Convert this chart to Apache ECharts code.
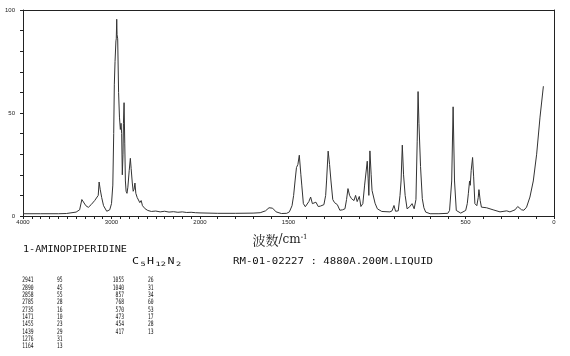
<!DOCTYPE html>
<html><head><meta charset="utf-8">
<script src="https://cdn.jsdelivr.net/npm/echarts@6/dist/echarts.min.js"></script>
<style>html,body{margin:0;padding:0;background:#fff}#c{width:570px;height:356px}</style>
</head><body><div id="c"></div>
<script>
// Spectrum (wavenumber cm-1, Raman intensity)
const wavenumbers = [4000,3800,3600,3510,3500,3400,3360,3335,3320,3290,3262,3230,3190,3170,3150,3140,3128,3111,3090,3054,3020,3000,2985,2975,2968,2960,2950,2946,2941,2937,2930,2920,2910,2900,2892,2885,2878,2870,2865,2858,2850,2843,2835,2825,2815,2800,2787,2778,2765,2755,2745,2735,2725,2710,2700,2680,2665,2650,2620,2590,2550,2500,2450,2400,2350,2300,2250,2200,2150,2100,2050,2000,
1900,1800,1700,1660,1630,1610,1600,1590,1570,1540,1510,1495,1480,1471,1463,1455,1447,1439,1430,1425,1416,1405,1397,1385,1375,1365,1360,1345,1332,1320,1313,1300,1290,1285,1276,1268,1260,1250,1240,1224,1210,1195,1181,1172,1164,1155,1144,1130,1121,1112,1100,1091,1080,1070,1055,1050,1046,1040,1033,1028,1011,998,973,927,915,904,895,880,870,864,857,850,841,830,815,802,790,780,773,768,763,754,744,735,725,700,650,600,590,578,570,562,552,527,499,490,484,477,473,468,460,454,447,436,428,424,417,410,400,381,344,305,267,249,220,205,196,183,170,155,136,117,98,79,60,45];
const intensity = [1.1,1.1,1.1,1.2,1.7,1.9,3,8,7.5,5,4.2,5.5,7.5,6.7,10,16.5,13,9,5,2.3,3,6,15,40,64,75,85,86,95.5,88,86,60,48,42,45,40,20,30,45,55,35,17,12,11,14,22,28,23,16,12,13,16,11,9,8.5,6.5,7.5,5,3.5,2.7,2.2,2.4,2,2.3,1.9,2.1,1.8,2,1.7,1.8,1.6,1.5,
1.3,1.3,1.4,1.6,2.5,4,4.3,3.8,2,1.2,1.3,2,5,10,17,23.5,25,29.5,20,15,6,4.5,4.6,7,9.2,6,5.6,6.7,4.6,4.8,4.6,5.5,10,17,31.5,25,17,8,6.5,5.5,2.8,3,3.5,8,13.3,10,8.4,7.5,10,7,9.5,4.6,6,15,26.6,18,10,31.6,20,12.4,6.2,3.5,2.2,2,2.5,5.1,2.3,2.5,10,17,34.4,20,10,3.5,4.5,6,3.5,8,36,60.4,45,24,8.4,4,1.9,1.1,1.1,1.3,2.7,17,53,17,2.7,1.4,2.7,6,10.8,17,14.9,22,28.4,19,6,5,9,12.8,7.5,4.3,4,4,3,2,2.5,2,3,4.6,5.5,3,2.8,4.3,9.2,17,30,48,63];
const xTickLabels = [4000,3000,2000,1500,500,0];
const yTickLabels = [0,50,100];
const peakWavenumbers = [2941,2890,2858,2785,2735,1471,1455,1439,1276,1164,1055,1040,857,768,570,473,454,417];
const peakIntensities = [95,45,55,28,16,10,23,29,31,13,26,31,34,60,53,17,28,13];
const compoundName = '1-AMINOPIPERIDINE';
const sampleInfo = 'RM-01-02227 : 4880A.200M.LIQUID';

const high = [], low = [];
wavenumbers.forEach((w, i) => {
  if (w >= 2000) high.push([w, intensity[i]]);
  if (w <= 2000) low.push([w, intensity[i]]);
});

const lineCol = '#222';
const tickFont = {fontFamily: 'Liberation Sans', fontSize: 6, color: '#222'};
function xAxisMain(grid, min, max, skip) {
  return {
    gridIndex: grid, type: 'value', min: min, max: max, inverse: true, interval: 100, position: 'bottom',
    axisLine: {show: true, onZero: false, lineStyle: {color: lineCol, width: 1}},
    axisTick: {show: true, length: 3, lineStyle: {color: lineCol}},
    splitLine: {show: false},
    axisLabel: Object.assign({margin: 3, showMinLabel: true, showMaxLabel: true,
      formatter: v => (xTickLabels.includes(v) && v !== skip) ? String(v) : ''}, tickFont)
  };
}
function xAxisTop(grid, min, max) {
  return {gridIndex: grid, type: 'value', min: min, max: max, inverse: true, position: 'top',
    axisLine: {show: true, onZero: false, lineStyle: {color: lineCol, width: 1}},
    axisTick: {show: false}, axisLabel: {show: false}, splitLine: {show: false}};
}

const graphics = [];
graphics.push({type: 'text', x: 280, y: 240, style: {
  text: '{a|波数}{b|/cm}{c|-1}', align: 'center', verticalAlign: 'middle',
  rich: {a: {fontFamily: 'Noto Serif CJK SC, Noto Sans CJK SC', fontSize: 13, fill: '#222'},
         b: {fontFamily: 'DejaVu Serif', fontSize: 12, fill: '#222'},
         c: {fontFamily: 'DejaVu Serif', fontSize: 7, fill: '#222', verticalAlign: 'top', padding: [0,0,6,0]}}
}});
const mono = 'DejaVu Sans Mono';
graphics.push({type: 'text', x: 23, y: 250, scaleX: 1.27, style: {text: compoundName, font: '8px ' + mono, fill: '#111', verticalAlign: 'middle'}});
graphics.push({type: 'text', x: 233, y: 262, scaleX: 1.34, style: {text: sampleInfo, font: '8px ' + mono, fill: '#111', verticalAlign: 'middle'}});
graphics.push({type: 'text', x: 132, y: 262, scaleX: 1.45, style: {
  text: '{n|C}{s|5}{n|H}{s|12}{n|N}{s|2}', verticalAlign: 'middle',
  rich: {n: {fontFamily: mono, fontSize: 8, fill: '#111', padding: [0,1,0,0]},
         s: {fontFamily: mono, fontSize: 6, fill: '#111', padding: [4,1,0,0]}}
}});
peakWavenumbers.forEach((w, i) => {
  const col = i < 10 ? 0 : 1;
  const row = i < 10 ? i : i - 10;
  const y = 280.3 + row * 7.33;
  graphics.push({type: 'text', x: col ? 124 : 33.5, y: y, scaleX: 0.62,
    style: {text: String(w), font: '7.5px ' + mono, fill: '#111', align: 'right', verticalAlign: 'middle'}});
  graphics.push({type: 'text', x: col ? 148 : 57, y: y, scaleX: 0.62,
    style: {text: String(peakIntensities[i]), font: '7.5px ' + mono, fill: '#111', align: 'left', verticalAlign: 'middle'}});
});

const chart = echarts.init(document.getElementById('c'), null, {renderer: 'canvas'});
chart.setOption({
  animation: false,
  backgroundColor: '#fff',
  grid: [
    {left: 23, top: 10, width: 177, height: 206},
    {left: 200, top: 10, width: 354, height: 206}
  ],
  xAxis: [xAxisMain(0, 2000, 4000, null), xAxisTop(0, 2000, 4000), xAxisMain(1, 0, 2000, 2000), xAxisTop(1, 0, 2000)],
  yAxis: [
    {gridIndex: 0, type: 'value', min: 0, max: 100, interval: 10, position: 'left',
     axisLine: {show: true, lineStyle: {color: lineCol, width: 1}},
     axisTick: {show: true, length: 3, lineStyle: {color: lineCol}},
     splitLine: {show: false},
     axisLabel: Object.assign({margin: 8, formatter: v => yTickLabels.includes(v) ? String(v) : ''}, tickFont)},
    {gridIndex: 1, type: 'value', min: 0, max: 100, position: 'right',
     axisLine: {show: true, lineStyle: {color: lineCol, width: 1}},
     axisTick: {show: false}, axisLabel: {show: false}, splitLine: {show: false}}
  ],
  series: [
    {type: 'line', xAxisIndex: 0, yAxisIndex: 0, data: high, showSymbol: false, symbol: 'none',
     lineStyle: {color: '#333', width: 1}, silent: true},
    {type: 'line', xAxisIndex: 2, yAxisIndex: 1, data: low, showSymbol: false, symbol: 'none',
     lineStyle: {color: '#333', width: 1}, silent: true}
  ],
  graphic: graphics
});
</script></body></html>
